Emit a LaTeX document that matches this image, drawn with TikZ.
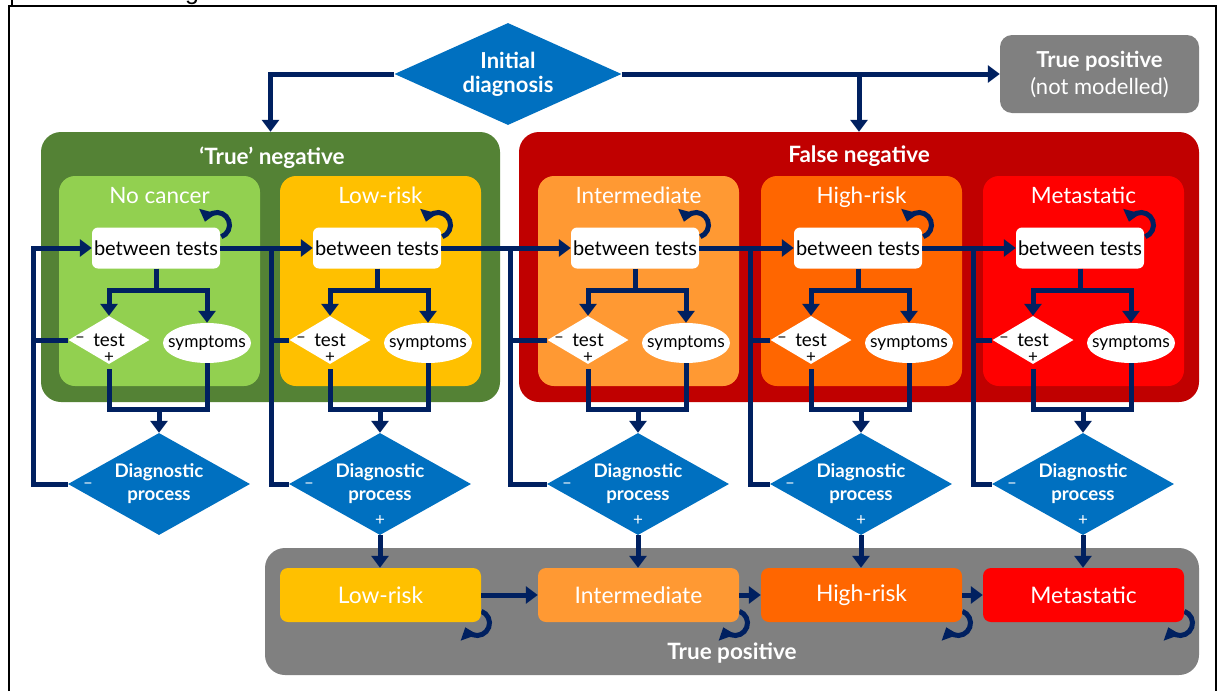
\documentclass[tikz,border=0pt]{standalone}
\usepackage{fontspec}
\setmainfont{Lato}
\newfontfamily\capfont{Liberation Sans}
\usetikzlibrary{arrows.meta,shapes.geometric}
\definecolor{navy}{HTML}{002060}
\definecolor{dblue}{HTML}{0070C0}
\definecolor{dgreen}{HTML}{548235}
\definecolor{lgreen}{HTML}{92D050}
\definecolor{yel}{HTML}{FFC000}
\definecolor{dred}{HTML}{C00000}
\definecolor{lorange}{HTML}{FF9933}
\definecolor{orng}{HTML}{FF6600}
\definecolor{rd}{HTML}{FF0000}
\definecolor{gry}{HTML}{808080}
\tikzset{
  ln/.style={draw=navy,line width=5pt},
  arr/.style={ln,-{Triangle[width=17pt,length=12pt]}},
  larr/.style={draw=navy,line width=5pt,-{Triangle[width=17pt,length=11pt]}},
  outer/.style={rectangle,rounded corners=20pt,inner sep=0pt},
  inbox/.style={rectangle,rounded corners=16pt,minimum width=201pt,minimum height=210pt,inner sep=0pt},
  otitle/.style={text=white,font=\bfseries\fontsize{22.5}{26}\selectfont,inner sep=0pt},
  ititle/.style={text=white,font=\fontsize{22.5}{26}\selectfont,inner sep=0pt},
  sign/.style={inner sep=0pt,font=\fontsize{17}{19}\selectfont},
  btbox/.style={rectangle,fill=white,rounded corners=6pt,minimum width=128pt,minimum height=41pt,inner sep=0pt,font=\fontsize{20}{23}\selectfont},
  testd/.style={diamond,fill=white,minimum width=81pt,minimum height=48pt,inner sep=0pt,aspect=1.7,font=\fontsize{18.8}{21}\selectfont},
  symp/.style={ellipse,fill=white,minimum width=88pt,minimum height=40pt,inner sep=0pt},
  stext/.style={inner sep=0pt,font=\fontsize{17.3}{20}\selectfont},
  diagd/.style={diamond,fill=dblue,text=white,minimum width=182pt,minimum height=102pt,inner sep=0pt,aspect=1.8,align=center,font=\bfseries\fontsize{18.7}{23}\selectfont},
  initd/.style={diamond,fill=dblue,text=white,minimum width=227pt,minimum height=102pt,inner sep=0pt,aspect=2.2,align=center,font=\bfseries\fontsize{22}{24}\selectfont},
  tpnm/.style={rectangle,fill=gry,rounded corners=12pt,minimum width=199pt,minimum height=78pt,inner sep=0pt,text=white,align=center,font=\fontsize{22}{27}\selectfont},
  tpb/.style={rectangle,rounded corners=8pt,minimum width=201pt,minimum height=54pt,inner sep=0pt,text=white,font=\fontsize{22.8}{26}\selectfont}
}
\begin{document}
\begin{tikzpicture}[x=1pt,y=-1pt]
\useasboundingbox (0,0) rectangle (1221,691);
\fill[white] (0,0) rectangle (1221,691);
% frame
\draw[line width=2.2pt] (9,691) -- (9,6) -- (1216,6) -- (1216,691);
\draw[line width=1.6pt] (12,0) -- (12,6);
\begin{scope}
\clip (0,0) rectangle (1221,5.2);
\node[anchor=base,font=\capfont\fontsize{25}{30}\selectfont,inner sep=0pt] (capg) at (192,-1) {g};
\end{scope}
% top
\node[initd] (init) at (508,74) {Initial\\diagnosis};
\node[tpnm] (tpnm) at (1099.5,74) {\textbf{True positive}\\(not modelled)};
\node[outer,fill=dgreen,minimum width=459pt,minimum height=270pt] (tnbox) at (270.5,267) {};
\node[outer,fill=dred,minimum width=680pt,minimum height=270pt] (fnbox) at (859,267) {};
\node[outer,fill=gry,minimum width=934pt,minimum height=127pt] (tpbox) at (732,611.5) {};
\node[otitle,anchor=base] (tntitle) at (272,164) {‘True’ negative};
\node[otitle,anchor=base] (fntitle) at (859,162) {False negative};
\node[otitle,anchor=base] (tptitle) at (732,659) {True positive};
% columns
\foreach \i/\cx/\col/\title in {1/156/lgreen/No cancer,2/377/yel/Low-risk,3/635/lorange/Intermediate,4/858/orng/High-risk,5/1080/rd/Metastatic}{
  \node[inbox,fill=\col] (in\i) at (\cx+3.5,281) {};
  \node[ititle,anchor=base] (it\i) at (\cx+3.5,203) {\title};
  \draw[larr] (\cx+61,225) ++(70:12.5) arc (70:-165:12.5);
  \node[btbox] (bt\i) at (\cx,248) {between tests};
  \node[testd] (test\i) at (\cx-47,340) {test};
  \node[sign] (tm\i) at (\cx-76,340) {–};
  \node[sign] (tplus\i) at (\cx-47,358) {+};
  \node[symp] (sym\i) at (\cx+51,343) {};
  \node[stext] (st\i) at (sym\i) {symptoms};
  \node[diagd] (dg\i) at (\cx+3,484) {Diagnostic\\process};
  \node[sign,text=white] (dm\i) at (\cx-68,486) {–};
  % connectors inside column
  \draw[ln] (bt\i.south) -- (\cx,290) coordinate (br\i);
  \draw[arr] (br\i) -| (test\i.north);
  \draw[arr] (br\i) -| (sym\i.north);
  \draw[ln] ([yshift=-5pt]test\i.south) |- (\cx+3,409) coordinate (jn\i) -| (sym\i.south);
  \draw[arr] (jn\i) -- (dg\i.north);
}
% bottom row
\foreach \i/\cx/\col/\title in {2/377/yel/Low-risk,3/635/lorange/Intermediate,4/858/orng/High-risk,5/1080/rd/Metastatic}{
  \draw[larr] (\cx+100,623) ++(-70:12.5) arc (-70:160:12.5);
  \node[tpb,fill=\col] (tpb\i) at (\cx+3.5,595) {\title};
  \node[sign,text=white] (dp\i) at (\cx+3,521) {+};
  \draw[arr] (dg\i.south) -- (dg\i.south |- tpb\i.north);
}
% loop-backs
\foreach \i/\vx in {1/33,2/271,3/510,4/750,5/973}{
  \draw[ln] (test\i.west) -- (\vx,340);
}
\draw[arr] (dg1.west) -| (33,248) -- (bt1.west);
\draw[ln] (dg2.west) -| (271,248);
\draw[ln] (dg3.west) -| (510,248);
\draw[ln] (dg4.west) -| (750,248);
\draw[ln] (dg5.west) -| (973,248);
\draw[arr] (bt1.east) -- (bt2.west);
\draw[arr] (bt2.east) -- (bt3.west);
\draw[arr] (bt3.east) -- (bt4.west);
\draw[arr] (bt4.east) -- (bt5.west);
% bottom horizontal
\draw[arr] (tpb2.east) -- (tpb3.west);
\draw[arr] (tpb3.east) -- (tpb4.west);
\draw[arr] (tpb4.east) -- (tpb5.west);
% initial diagnosis arrows
\draw[arr] (init.west) -| (tnbox.north);
\draw[arr] (init.east) -- (tpnm.west);
\draw[arr] (init.east -| fnbox.north) -- (fnbox.north);
\end{tikzpicture}
\end{document}
